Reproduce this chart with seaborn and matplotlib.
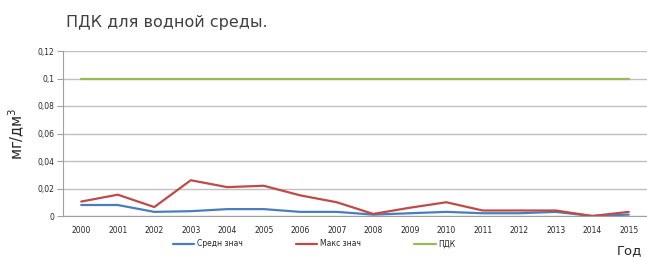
import matplotlib
matplotlib.use("Agg")
import matplotlib.pyplot as plt
import numpy as np
import pandas as pd
import seaborn as sns

years = [str(y) for y in range(2000, 2016)]
sredn = [0.008, 0.008, 0.003, 0.0035, 0.005, 0.005, 0.003, 0.003,
         0.001, 0.002, 0.003, 0.002, 0.002, 0.003, 0.0, 0.001]
maks = [0.0105, 0.0155, 0.0065, 0.026, 0.021, 0.022, 0.015, 0.01,
        0.0015, 0.006, 0.01, 0.004, 0.004, 0.004, 0.0, 0.003]
pdk = [0.1] * 16
series_names = ["Средн знач", "Макс знач", "ПДК"]
colors = ["#4a7ebb", "#be4b48", "#98b954"]

df = pd.DataFrame({"x": list(range(len(years))) * 3,
                   "val": sredn + maks + pdk,
                   "series": [series_names[0]] * 16 + [series_names[1]] * 16 + [series_names[2]] * 16})

sns.set_style("white")
plt.rcParams['font.family'] = ['DejaVu Sans']

fig = plt.figure(figsize=(6.47, 2.57), dpi=100)
ax = fig.add_axes([63 / 647, 41 / 257, 584 / 647, 165 / 257])

sns.lineplot(data=df, x="x", y="val", hue="series", palette=colors,
             linewidth=1.6, ax=ax, legend=False)

ax.set_xlim(-0.5, 15.5)
ax.set_ylim(0, 0.12)
ax.set_yticks(np.arange(0, 0.121, 0.02))
ax.set_yticklabels(["0", "0,02", "0,04", "0,06", "0,08", "0,1", "0,12"], fontsize=5.5)
ax.set_xticks(range(16))
ax.set_xticklabels(years, fontsize=5.5)
ax.set_xticks(np.arange(-0.5, 15.6, 1), minor=True)
ax.tick_params(axis="x", which="major", length=0, pad=7)
ax.tick_params(axis="x", which="minor", length=4, color="#a0a0a0")
ax.tick_params(axis="y", length=4, color="#a0a0a0", pad=2, left=True)
ax.yaxis.grid(True, color="#c0c0c0", linewidth=1)
ax.set_axisbelow(True)
for s in ["top", "right"]:
    ax.spines[s].set_visible(False)
for s in ["left", "bottom"]:
    ax.spines[s].set_color("#a0a0a0")
ax.set_xlabel("")
ax.set_ylabel("мг/дм$^3$", fontsize=10.5, labelpad=8)

fig.text(66 / 647, 1 - 22 / 257, "ПДК для водной среды.", fontsize=11.5,
         color="#404040", va="center", ha="left")
fig.text(642 / 647, 1 - 251 / 257, "Год", fontsize=9.5, va="center", ha="right")

handles = [plt.Line2D([], [], color=c, linewidth=1.6) for c in colors]
fig.legend(handles, series_names, loc="center", bbox_to_anchor=(314 / 647, 1 - 244 / 257),
           ncol=3, frameon=False, fontsize=5.5, handlelength=2.8, columnspacing=7,
           handletextpad=0.3)

fig.savefig("out.png", dpi=100)
